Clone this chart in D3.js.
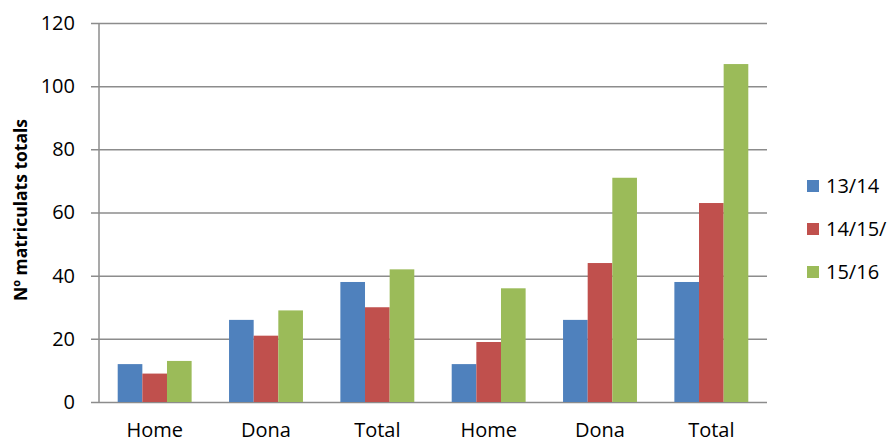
<!DOCTYPE html>
<html><head><meta charset="utf-8">
<script src="https://cdn.jsdelivr.net/npm/d3@7/dist/d3.min.js"></script>
<style>body{margin:0;background:#fff;}svg{display:block;font-family:"Open Sans",Lato,sans-serif;}</style>
</head><body><svg id="c" width="892" height="442"></svg>
<script>
const categories = ["Home","Dona","Total","Home","Dona","Total"];
const seriesNames = ["13/14","14/15/","15/16"];
const s1314 = [12,26,38,12,26,38];
const s1415 = [9,21,30,19,44,63];
const s1516 = [13,29,42,36,71,107];
const yTicks = [0,20,40,60,80,100,120];
const colors = ["#4F81BD","#C0504D","#9BBB59"];
const series = [s1314,s1415,s1516];

const svg = d3.select("#c");
const m = {l:99, r:767, t:23, b:402};
const x0 = d3.scaleBand().domain(d3.range(categories.length)).range([m.l,m.r]).paddingInner(0.336).paddingOuter(0.168);
const x1 = d3.scaleBand().domain(d3.range(series.length)).range([0,x0.bandwidth()]);
const y = d3.scaleLinear().domain([0,120]).range([m.b,m.t]);

// gridlines
const yAxis = d3.axisLeft(y).tickValues(yTicks).tickSize(-(m.r-m.l));
const gy = svg.append("g").attr("transform",`translate(${m.l},0)`).call(yAxis);
gy.select(".domain").remove();
gy.selectAll(".tick line").attr("stroke","#8c8c8c").attr("stroke-width",1.5).attr("x1",-8);
gy.selectAll(".tick text").attr("x",-24).attr("font-size",20).attr("fill","#000").attr("font-family","'Open Sans',sans-serif");

// bars
const groups = svg.append("g").selectAll("g").data(categories).join("g")
  .attr("transform",(d,i)=>`translate(${x0(i)},0)`);
groups.selectAll("rect").data((d,i)=>series.map((s,j)=>({j,v:s[i]}))).join("rect")
  .attr("x",d=>x1(d.j)).attr("width",x1.bandwidth())
  .attr("y",d=>y(d.v)).attr("height",d=>y(0)-y(d.v)).attr("fill",d=>colors[d.j]);

// y axis line
svg.append("line").attr("x1",m.l).attr("x2",m.l).attr("y1",m.t).attr("y2",m.b).attr("stroke","#8c8c8c").attr("stroke-width",1.5);

// x labels
const xAxis = d3.axisBottom(x0).tickFormat(i=>categories[i]).tickSize(0).tickPadding(21);
const gx = svg.append("g").attr("transform",`translate(0,${m.b})`).call(xAxis);
gx.select(".domain").remove();
gx.selectAll(".tick text").attr("font-size",20).attr("fill","#000").attr("font-family","'Open Sans',sans-serif");

// y title
svg.append("text").attr("transform","translate(27,210) rotate(-90)").attr("text-anchor","middle")
  .attr("font-weight","bold").attr("font-size",17.5).text("Nº matriculats totals");

// legend
const lg = svg.append("g").selectAll("g").data(seriesNames).join("g")
  .attr("transform",(d,i)=>`translate(807,${186+i*43})`);
lg.append("rect").attr("x",0).attr("y",-6).attr("width",12).attr("height",12).attr("fill",(d,i)=>colors[i]);
lg.append("text").attr("x",19).attr("y",0).attr("dy","0.35em").attr("font-size",20).text(d=>d);
</script></body></html>
